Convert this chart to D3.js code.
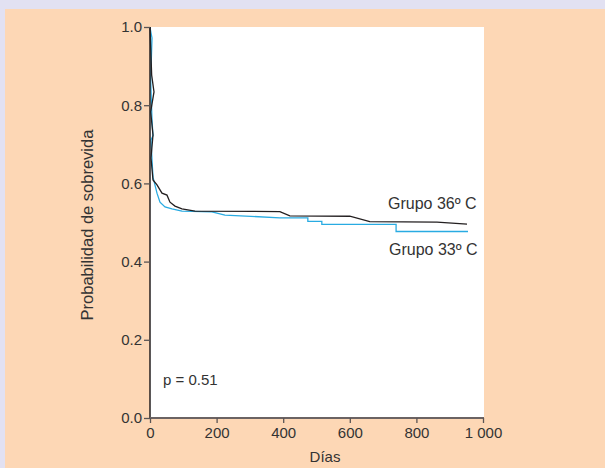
<!DOCTYPE html>
<html>
<head>
<meta charset="utf-8">
<script src="https://cdn.jsdelivr.net/npm/d3@7"></script>
<style>
  html, body { margin: 0; padding: 0; background: #e2e1f2; }
  svg { display: block; font-family: "Liberation Sans", Arial, sans-serif; }
</style>
</head>
<body>
<svg></svg>
<script>
var width = 605, height = 468;

// Grupo 36º C (negro) - dias y probabilidad
var days36 = [0, 5, 12, 2, 9, 3, 9, 21, 36, 51, 60, 75, 96, 135, 390, 420, 600, 660, 862, 952];
var surv36 = [1.0, 0.877, 0.834, 0.783, 0.724, 0.665, 0.609, 0.596, 0.575, 0.570, 0.552, 0.542, 0.535, 0.529, 0.528, 0.517, 0.516, 0.502, 0.501, 0.496];

// Grupo 33º C (azul)
var days33 = [0, 3, 6, 2, 6, 9, 3, 6, 9, 21, 30, 45, 66, 96, 186, 225, 390, 474, 474, 516, 516, 739, 739, 955];
var surv33 = [1.0, 0.985, 0.972, 0.864, 0.762, 0.722, 0.711, 0.660, 0.616, 0.575, 0.552, 0.540, 0.535, 0.529, 0.527, 0.519, 0.512, 0.512, 0.503, 0.503, 0.495, 0.495, 0.477, 0.477];

var xTicks = [0, 200, 400, 600, 800, 1000];
var yTicks = [0, 0.2, 0.4, 0.6, 0.8, 1.0];

var svg = d3.select("svg")
            .attr("width", width)
            .attr("height", height);

svg.append("rect")
   .attr("x", 5).attr("y", 9)
   .attr("width", width - 5).attr("height", height - 9)
   .attr("fill", "#fdd7b5");

var xScale = d3.scaleLinear().domain([0, 1000]).range([150, 483]);
var yScale = d3.scaleLinear().domain([0, 1]).range([418, 27]);

svg.append("rect")
   .attr("x", xScale(0)).attr("y", yScale(1))
   .attr("width", 484 - xScale(0)).attr("height", yScale(0) - yScale(1))
   .attr("fill", "#ffffff");

var line = d3.line()
             .x(d => xScale(d[0]))
             .y(d => yScale(d[1]));

svg.append("path")
   .datum(d3.zip(days33, surv33))
   .attr("d", line)
   .attr("fill", "none")
   .attr("stroke", "#29abe2")
   .attr("stroke-width", 1.3);

svg.append("path")
   .datum(d3.zip(days36, surv36))
   .attr("d", line)
   .attr("fill", "none")
   .attr("stroke", "#231f20")
   .attr("stroke-width", 1.3);

var xAxis = d3.axisBottom(xScale)
              .tickValues(xTicks)
              .tickSize(5)
              .tickPadding(4)
              .tickFormat(d => d === 1000 ? "1 000" : d);
var yAxis = d3.axisLeft(yScale)
              .tickValues(yTicks)
              .tickSize(6)
              .tickPadding(2)
              .tickFormat(d3.format(".1f"));

var gy = svg.append("g")
   .attr("transform", "translate(150,0)")
   .call(yAxis);
gy.select(".domain").attr("stroke", "#231f20").attr("stroke-width", 1.5).attr("d", "M0," + yScale(1) + "V" + yScale(0));

var gx = svg.append("g")
   .attr("transform", "translate(0,418)")
   .call(xAxis);
gx.select(".domain").attr("stroke", "#6b6363").attr("stroke-width", 2).attr("d", "M" + xScale(0) + ",0H484");

svg.selectAll(".tick line").attr("stroke", "#5a5555").attr("stroke-width", 1.3);
svg.selectAll(".tick text")
   .attr("fill", "#333333")
   .style("font-size", "15px")
   .style("font-family", "'Liberation Sans', Arial, sans-serif");

svg.append("text")
   .attr("x", 325)
   .attr("y", 462)
   .attr("text-anchor", "middle")
   .attr("fill", "#333333")
   .style("font-size", "15px")
   .text("Días");

svg.append("text")
   .attr("transform", "rotate(-90)")
   .attr("x", -225)
   .attr("y", 93)
   .attr("text-anchor", "middle")
   .attr("fill", "#333333")
   .style("font-size", "16.5px")
   .text("Probabilidad de sobrevida");

svg.append("text")
   .attr("x", 163).attr("y", 385)
   .attr("fill", "#333333")
   .style("font-size", "15px")
   .text("p = 0.51");

svg.append("text")
   .attr("x", 388).attr("y", 209)
   .attr("fill", "#333333")
   .style("font-size", "16px")
   .text("Grupo 36º C");

svg.append("text")
   .attr("x", 389).attr("y", 255)
   .attr("fill", "#333333")
   .style("font-size", "16px")
   .text("Grupo 33º C");
</script>
</body>
</html>
